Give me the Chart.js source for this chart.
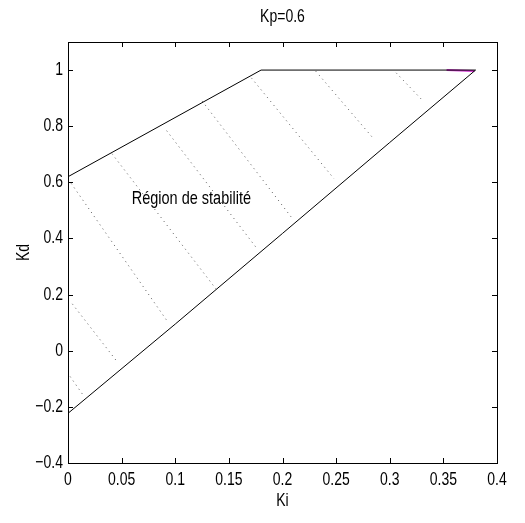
<!DOCTYPE html>
<html>
<head>
<meta charset="utf-8">
<script src="https://cdn.jsdelivr.net/npm/chart.js@4"></script>
<style>
html,body{margin:0;padding:0;background:#fff;}
#wrap{width:525px;height:523px;}
</style>
</head>
<body>
<div id="wrap"><canvas id="c" width="525" height="523"></canvas></div>
<script>
// ---- data ----
const titleText = "Kp=0.6";
const xLabel = "Ki";
const yLabel = "Kd";
const regionLabel = "Région de stabilité";
const regionLabelKi = 0.115;
const regionLabelKd = 0.543;

const xTicks = [0, 0.05, 0.1, 0.15, 0.2, 0.25, 0.3, 0.35, 0.4];
const xTickLabels = ["0", "0.05", "0.1", "0.15", "0.2", "0.25", "0.3", "0.35", "0.4"];
const yTicks = [-0.4, -0.2, 0, 0.2, 0.4, 0.6, 0.8, 1];
const yTickLabels = ["\u22120.4", "\u22120.2", "0", "0.2", "0.4", "0.6", "0.8", "1"];

const upperKi = [0, 0.18, 0.38];
const upperKd = [0.62, 1.0, 1.0];

const lowerKi = [0, 0.1, 0.2, 0.3, 0.38];
const lowerKd = [-0.223, 0.095, 0.418, 0.742, 1.0];

const magentaKi = [0.353, 0.379];
const magentaKd = [1.0, 0.997];

const dotStartKi = [0.002, 0.004, 0.003, 0.041, 0.092, 0.125, 0.171, 0.231, 0.306];
const dotStartKd = [-0.092, 0.167, 0.596, 0.702, 0.784, 0.890, 0.972, 0.996, 0.990];
const dotEndKi   = [0.015, 0.046, 0.093, 0.138, 0.176, 0.209, 0.248, 0.285, 0.331];
const dotEndKd   = [-0.163, -0.040, 0.103, 0.220, 0.365, 0.472, 0.613, 0.755, 0.890];

// ---- build datasets ----
function pts(xs, ys){ return xs.map((x,i)=>({x:x, y:ys[i]})); }
const datasets = [];
dotStartKi.forEach((s,i)=>{
  datasets.push({
    data: pts([dotStartKi[i], dotEndKi[i]], [dotStartKd[i], dotEndKd[i]]),
    showLine:true, borderColor:'#555', borderWidth:1, borderDash:[1,4],
    pointRadius:0, fill:false
  });
});
datasets.push({data: pts(upperKi, upperKd), showLine:true, borderColor:'#000', borderWidth:1, pointRadius:0});
datasets.push({data: pts(lowerKi, lowerKd), showLine:true, borderColor:'#000', borderWidth:1, pointRadius:0});
datasets.push({data: pts(magentaKi, magentaKd), showLine:true, borderColor:'#d030d0', borderWidth:2, pointRadius:0});

const FONT = "'Liberation Sans',Arial,sans-serif";
const SY = 1.3; // vertical stretch of the reference's text

function stretchedText(ctx, txt, x, y, align, size, rot){
  ctx.save();
  ctx.translate(x, y);
  if (rot) ctx.rotate(rot);
  ctx.scale(1, SY);
  ctx.font = size + "px " + FONT;
  ctx.textAlign = align;
  ctx.textBaseline = 'middle';
  ctx.fillText(txt, 0, 0);
  ctx.restore();
}

const frame = {
  id:'frame',
  afterDraw(chart){
    const ctx = chart.ctx, a = chart.chartArea;
    const xs = chart.scales.x, ys = chart.scales.y;
    ctx.save();
    ctx.strokeStyle = '#000';
    ctx.lineWidth = 1;
    ctx.strokeRect(Math.round(a.left)+0.5, Math.round(a.top)+0.5, Math.round(a.right-a.left), Math.round(a.bottom-a.top));
    const tl = 5;
    ctx.beginPath();
    xTicks.forEach(v=>{
      const p = Math.round(xs.getPixelForValue(v))+0.5;
      ctx.moveTo(p, a.bottom); ctx.lineTo(p, a.bottom-tl);
      ctx.moveTo(p, a.top); ctx.lineTo(p, a.top+tl);
    });
    yTicks.forEach(v=>{
      const p = Math.round(ys.getPixelForValue(v))+0.5;
      ctx.moveTo(a.left, p); ctx.lineTo(a.left+tl, p);
      ctx.moveTo(a.right, p); ctx.lineTo(a.right-tl, p);
    });
    ctx.stroke();
    ctx.fillStyle = '#000';
    // tick labels
    xTicks.forEach((v,i)=>{
      stretchedText(ctx, xTickLabels[i], xs.getPixelForValue(v), a.bottom+17, 'center', 14);
    });
    yTicks.forEach((v,i)=>{
      stretchedText(ctx, yTickLabels[i], a.left-5, ys.getPixelForValue(v), 'right', 14);
    });
    // title
    stretchedText(ctx, titleText, (a.left+a.right)/2, 17, 'center', 14);
    // axis labels
    stretchedText(ctx, xLabel, (a.left+a.right)/2, 501, 'center', 14);
    stretchedText(ctx, yLabel, 24, (a.top+a.bottom)/2, 'center', 14, -Math.PI/2);
    // region label
    stretchedText(ctx, regionLabel, xs.getPixelForValue(regionLabelKi), ys.getPixelForValue(regionLabelKd), 'center', 14.5);
    ctx.restore();
  }
};

new Chart(document.getElementById('c'), {
  type:'scatter',
  data:{datasets},
  options:{
    responsive:false, animation:false, maintainAspectRatio:false,
    layout:{padding:{top:42, right:28, left:0, bottom:0}},
    plugins:{legend:{display:false}, tooltip:{enabled:false}, title:{display:false}},
    scales:{
      x:{type:'linear', min:0, max:0.4,
         afterBuildTicks(s){ s.ticks = xTicks.map(v=>({value:v})); },
         afterFit(s){ s.height = 60; },
         grid:{display:false, drawTicks:false}, border:{display:false},
         ticks:{display:false}},
      y:{type:'linear', min:-0.4, max:1.1,
         afterBuildTicks(s){ s.ticks = yTicks.map(v=>({value:v})); },
         afterFit(s){ s.width = 68; },
         grid:{display:false, drawTicks:false}, border:{display:false},
         ticks:{display:false}}
    }
  },
  plugins:[frame]
});
</script>
</body>
</html>
